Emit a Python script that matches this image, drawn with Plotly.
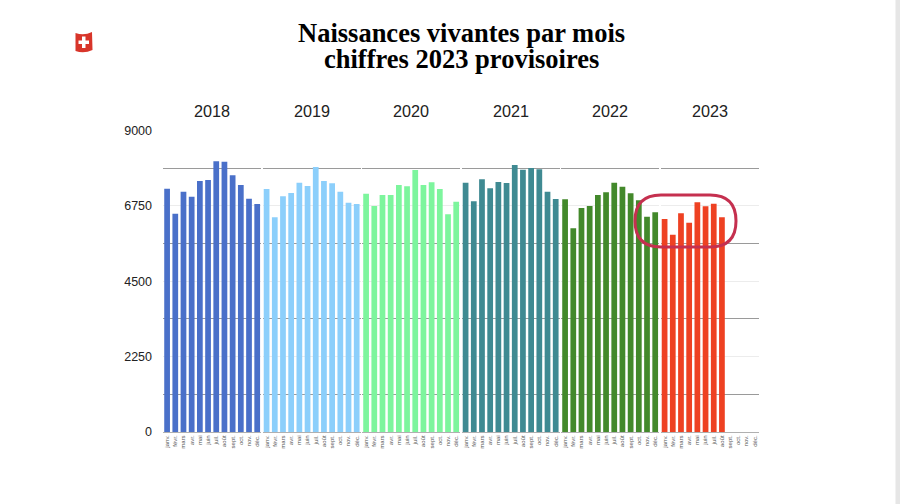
import plotly.graph_objects as go
from plotly.subplots import make_subplots

W, H = 900, 504

years = ["2018", "2019", "2020", "2021", "2022", "2023"]
months = ["janv.", "févr.", "mars", "avr.", "mai", "juin", "juil.", "août", "sept.", "oct.", "nov.", "déc."]

# values
births_2018 = [7264, 6517, 7174, 7025, 7492, 7522, 8080, 8070, 7661, 7373, 6965, 6806]
births_2019 = [7254, 6408, 7034, 7134, 7443, 7343, 7910, 7492, 7423, 7174, 6846, 6806]
births_2020 = [7115, 6746, 7075, 7075, 7373, 7333, 7821, 7373, 7453, 7254, 6497, 6876]
births_2021 = [7443, 6886, 7542, 7274, 7463, 7433, 7970, 7831, 7881, 7841, 7174, 6955]
births_2022 = [6945, 6079, 6687, 6746, 7075, 7155, 7443, 7323, 7125, 6915, 6428, 6557]
births_2023 = [6358, 5890, 6527, 6249, 6856, 6736, 6816, 6408, None, None, None, None]

all_births = [births_2018, births_2019, births_2020, births_2021, births_2022, births_2023]
colors = ["#4a70c9", "#8ccffb", "#7df59d", "#3f8a92", "#43892b", "#ee4122"]


# pixel position in the window -> paper coordinates
def px(x):
    return x / W


def py(y):
    return 1 - y / H


fig = make_subplots(rows=1, cols=6, shared_yaxes=True, horizontal_spacing=0.0015)

for i, (vals, col) in enumerate(zip(all_births, colors)):
    fig.add_trace(go.Bar(x=months, y=vals, marker_color=col, marker_line_width=0, showlegend=False), row=1, col=i + 1)

# six panels side by side, each with its own bit of grid
left, right = 163, 760
step = (right - left) / 6
for i in range(6):
    name = "xaxis" if i == 0 else f"xaxis{i + 1}"
    fig.layout[name].update(
        domain=[px(left + i * step), px(left + (i + 1) * step - 1.2)],
        type="category",
        categoryorder="array",
        categoryarray=months,
        tickangle=-90,
        tickfont=dict(family="Liberation Sans", size=6, color="#555"),
        ticks="",
        ticklen=0,
        ticklabelstandoff=0,
        showgrid=False,
        showline=True,
        linecolor="#b0b0b0",
        linewidth=1,
        automargin=False,
    )
    yname = "yaxis" if i == 0 else f"yaxis{i + 1}"
    fig.layout[yname].update(
        domain=[py(432), py(130.5)],
        range=[0, 9000],
        tick0=0,
        dtick=2250,
        gridcolor="#ececec",
        gridwidth=1,
        zeroline=False,
        ticks="",
        ticklabelstandoff=10,
        tickfont=dict(family="Liberation Sans", size=12.5, color="#222"),
        minor=dict(dtick=1125, showgrid=True, gridcolor="#9a9a9a", gridwidth=1.3, ticks=""),
        automargin=False,
    )

# year headers
for i, yr in enumerate(years):
    fig.add_annotation(text=yr, xref="paper", yref="paper", x=px(left + (i + 0.5) * step - 0.5), y=py(111),
                       showarrow=False, xanchor="center", yanchor="middle",
                       font=dict(family="Liberation Sans", size=16.2, color="#222"))

# title, two lines placed by hand for the tight leading
for txt, ypos in [("Naissances vivantes par mois", 33.5), ("chiffres 2023 provisoires", 59)]:
    fig.add_annotation(text=f"<b>{txt}</b>", xref="paper", yref="paper", x=px(461), y=py(ypos),
                       showarrow=False, xanchor="center", yanchor="middle",
                       font=dict(family="Liberation Serif", size=26.5, color="#000"))

shapes = []

# highlight around the 2023 figures
x0, x1, y0, y1 = px(635), px(736), py(247), py(195)
rx, ry = px(26), 26 / H
shapes.append(dict(
    type="path", xref="paper", yref="paper",
    path=(f"M {x0 + rx} {y1} L {x1 - rx} {y1} Q {x1} {y1} {x1} {y1 - ry} "
          f"Q {x1} {y0} {x1 - rx} {y0} L {x0 + rx} {y0} Q {x0} {y0} {x0} {y0 + ry} "
          f"Q {x0} {y1} {x0 + rx} {y1} Z"),
    line=dict(color="#c5304f", width=3), layer="above",
))

# little swiss flag
shapes.append(dict(
    type="path", xref="paper", yref="paper", fillcolor="#d8352a", line=dict(width=0),
    path=(f"M {px(75.5)} {py(33)} Q {px(84)} {py(36)} {px(92)} {py(32)} L {px(92.5)} {py(50)} "
          f"Q {px(84)} {py(54)} {px(75.5)} {py(51)} Z"),
))
shapes.append(dict(type="rect", xref="paper", yref="paper", fillcolor="#fff", line=dict(width=0),
                   x0=px(82), x1=px(85.5), y0=py(48), y1=py(36.5)))
shapes.append(dict(type="rect", xref="paper", yref="paper", fillcolor="#fff", line=dict(width=0),
                   x0=px(78.5), x1=px(89), y0=py(44), y1=py(40.5)))

# grey strip on the right edge of the screenshot
shapes.append(dict(type="rect", xref="paper", yref="paper", fillcolor="#e6e6e6", line=dict(width=0),
                   x0=px(895.5), x1=1, y0=0, y1=1))

fig.update_layout(
    width=W,
    height=H,
    margin=dict(l=0, r=0, t=0, b=0),
    paper_bgcolor="white",
    plot_bgcolor="white",
    bargap=0.3,
    shapes=shapes,
)

fig.write_html("out.html", config={"displayModeBar": False},
               post_script="document.body.style.margin='0';")
